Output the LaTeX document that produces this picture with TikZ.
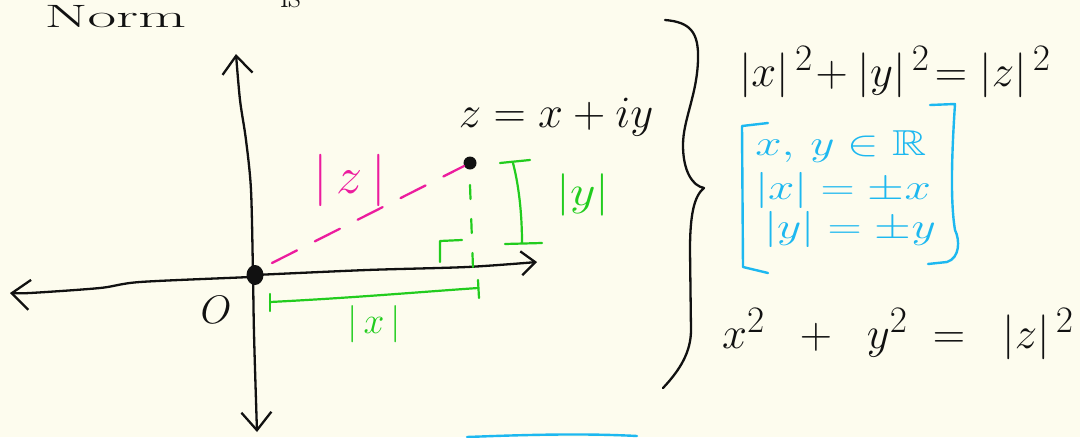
\documentclass[tikz,border=0pt]{standalone}
\usepackage{amssymb}
\usetikzlibrary{arrows.meta}
\definecolor{paper}{HTML}{FDFCEE}
\definecolor{ink}{HTML}{111111}
\definecolor{pinkz}{HTML}{EC1C9E}
\definecolor{greenx}{HTML}{22CC1E}
\definecolor{cyanb}{HTML}{1DB8F0}
\begin{document}
\begin{tikzpicture}[x=1pt,y=-1pt,line cap=round,line join=round,
  stroke/.style={draw=ink,line width=2.3pt},
  gstroke/.style={draw=greenx,line width=2.2pt},
  cstroke/.style={draw=cyanb,line width=2.4pt},
  axtip/.style={-{Straight Barb[length=18pt,width=30pt]}},
  axtips/.style={{Straight Barb[length=18pt,width=30pt]}-{Straight Barb[length=18pt,width=30pt]}},
  rtip/.style={-{Straight Barb[length=14pt,width=24pt]}},
  hand/.style={inner sep=0pt,text=ink,font=\Huge},
  big/.style={scale=1.8},
  cyantext/.style={text=cyanb,xscale=1.9,yscale=1.45},
  greentext/.style={text=greenx,scale=1.5}]
\fill[paper] (0,0) rectangle (1080,437);
\useasboundingbox (0,0) rectangle (1080,437);
\clip (0,0) rectangle (1080,437);

% title fragments (cut off at the top)
\node[hand,anchor=base west,xscale=2.5,yscale=1.3] (title) at (44,27) {Norm};
\node[hand,anchor=base west,scale=1.4] (istext) at (280,7) {is};

% axes
\coordinate (ytop) at (236,54);
\coordinate (ybot) at (257,432);
\coordinate (xleft) at (10,293);
\coordinate (xright) at (537,262);
\coordinate (O) at (255,275);
\draw[stroke,axtips] plot[smooth] coordinates {(257,432) (254,333) (253,275) (251,190) (246,140) (240,100) (236,54)};
\draw[stroke,axtip] plot[smooth] coordinates {(255,276) (250,277) (140,282) (100,288) (30,293) (10,293)};
\draw[stroke,rtip] plot[smooth] coordinates {(255,275) (367,270) (467,267) (537,262)};

% origin and point z
\fill[ink] (O) ellipse [x radius=8.5pt,y radius=10pt];
\node[hand,scale=1.6] (olabel) at (216,310) {$O$};
\node[circle,fill=ink,inner sep=0pt,minimum size=13pt] (z) at (470,163) {};
\node[hand,scale=1.8] (zlabel) at (556,117) {$z=x+iy$};

% |z| dashed segment
\coordinate (pz0) at (272,263);
\draw[draw=pinkz,line width=2.3pt,dash pattern=on 28pt off 20pt] (pz0) -- (z);
\node[hand,text=pinkz,scale=2.1] (zabs) at (350,180) {$|\,z\,|$};

% projection onto the real axis
\coordinate (zdrop) at (470,185);
\coordinate (zfoot) at (473,268);
\draw[gstroke,dash pattern=on 14pt off 20pt] (zdrop) -- (zfoot);
\draw[gstroke] (440,262) -- (440,241) -- (462,240);

% |y| bracket
\draw[gstroke] (500,163) -- (530,160);
\draw[gstroke] (513,163) .. controls (520,190) and (522,220) .. (522,243);
\draw[gstroke] (505,244) -- (542,243);
\node[hand,text=greenx,xscale=2.0,yscale=1.7] (yabs) at (583,195) {$|y|$};

% |x| bracket
\draw[gstroke] (270,294) -- (270,311);
\draw[gstroke] (270,302) .. controls (350,298) and (420,292) .. (478,288);
\draw[gstroke] (478,280) -- (479,298);
\node[hand,greentext] (xabs) at (374,324) {$|\,x\,|$};

% big brace
\draw[stroke] (665,20) .. controls (690,22) and (699,32) .. (698,60)
  .. controls (697,95) and (683,120) .. (683,145)
  .. controls (683,172) and (693,186) .. (704,188)
  .. controls (694,196) and (690,215) .. (690,250)
  -- (691,330) .. controls (691,352) and (680,370) .. (663,388);

% equations
\node[hand,big] (eq1) at (895,72) {$|x|^{\,2}\!+|y|^{\,2}\!=|z|^{\,2}$};
\node[hand,big] (eq2) at (898,334) {$x^{2}\;\;+\;\;y^{2}\;=\;\;|z|^{\,2}$};

% cyan bracket
\draw[cstroke] (768,123) -- (742,126) -- (743,267) -- (768,273);
\draw[cstroke] (930,105) -- (955,104) .. controls (952,150) and (950,200) .. (955,230)
  .. controls (960,240) and (960,258) .. (947,262) -- (928,264);
\node[hand,cyantext] (c1) at (841,147) {$x,\,y\in\mathbb{R}$};
\node[hand,cyantext] (c2) at (843,190) {$|x|=\pm x$};
\node[hand,cyantext] (c3) at (850,229) {$|y|=\pm y$};

% cyan stroke at bottom edge
\draw[cstroke] (467,437) .. controls (520,435) and (580,433) .. (637,436);
\end{tikzpicture}
\end{document}
